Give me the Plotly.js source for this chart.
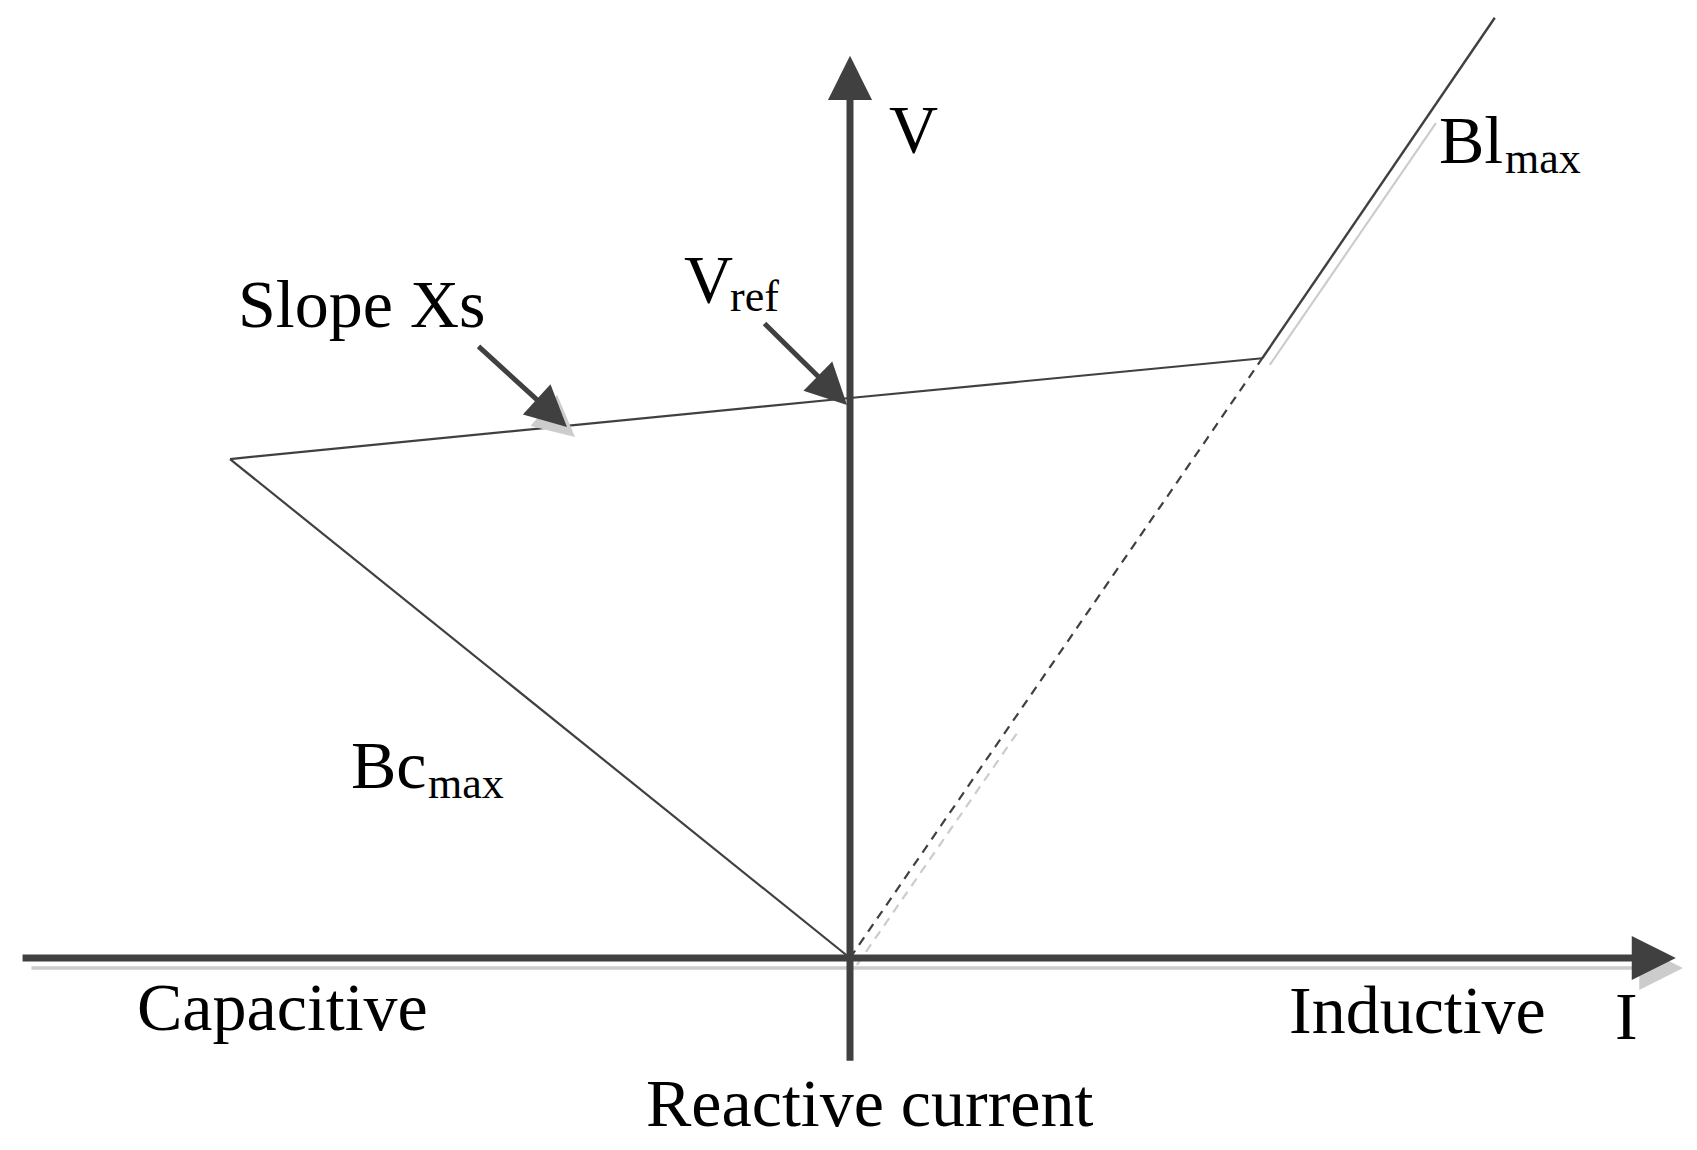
<!DOCTYPE html>
<html>
<head>
<meta charset="utf-8">
<script src="https://cdn.plot.ly/plotly-3.0.1.min.js"></script>
<style>
html,body{margin:0;padding:0;background:#fff;}
#chart{width:1697px;height:1150px;}
</style>
</head>
<body>
<div id="chart"></div>
<script>
// ---- Data (reactive current I, voltage V; V = 1 at Vref, I = -1 at capacitive limit) ----
const slopeI = [-1.000, 0.000, 0.665];
const slopeV = [0.891, 1.000, 1.071];
const bcI = [-1.000, 0.000];
const bcV = [0.891, 0.000];
const blI = [0.665, 1.040];
const blV = [1.071, 1.679];
const dashI = [0.000, 0.665];
const dashV = [0.000, 1.071];
// light-grey drop shadows
const blShadowI = [0.677, 0.945];
const blShadowV = [1.059, 1.491];
const dashShadowI = [0.011, 0.271];
const dashShadowV = [-0.0125, 0.404];
// axes extents
const axisI = [-1.337, 1.332];
const axisV = [-0.186, 1.611];
const axisShadowI = [-1.3226, 1.3435];
const axisShadowV = [-0.018, -0.018];
// pointer arrows [tail, tip]
const slopeArrowI = [-0.6016, -0.4565];
const slopeArrowV = [1.0946, 0.9482];
const slopeShadowI = [-0.5097, -0.4435];
const slopeShadowV = [0.9929, 0.9304];
const vrefArrowI = [-0.1403, -0.0048];
const vrefArrowV = [1.1357, 0.9875];

const W = 1697, H = 1150;
const DARK = '#404040', GREY = '#cccccc';
const FONT = '"Liberation Serif", "Times New Roman", serif';

function line(x, y, color, width, dash) {
  return {x: x, y: y, type: 'scatter', mode: 'lines', hoverinfo: 'skip', cliponaxis: false,
    line: {color: color, width: width, dash: dash || 'solid'}};
}
const traces = [
  line(blShadowI, blShadowV, GREY, 2.2),
  line(dashShadowI, dashShadowV, GREY, 2.2, '9px,7px'),
  line(slopeI, slopeV, DARK, 2.2),
  line(bcI, bcV, DARK, 2.2),
  line(blI, blV, DARK, 2.4),
  line(dashI, dashV, DARK, 2.2, '9px,7px')
];

function arrow(tx, ty, hx, hy, color, width, size) {
  return {xref: 'x', yref: 'y', axref: 'x', ayref: 'y', x: hx, y: hy, ax: tx, ay: ty,
    text: '', showarrow: true, arrowhead: 2, arrowsize: size, arrowwidth: width,
    arrowcolor: color, standoff: 0, startstandoff: 0};
}
function label(text, left, baseline, size) {
  return {xref: 'paper', yref: 'paper', x: left / W, y: 1 - (baseline - 0.3375 * size) / H,
    xanchor: 'left', yanchor: 'middle', text: text, showarrow: false,
    font: {family: FONT, size: size, color: '#000'}};
}

const annotations = [
  arrow(axisShadowI[0], axisShadowV[0], axisShadowI[1], axisShadowV[1], GREY, 3.5, 2.5),
  arrow(axisI[0], 0, axisI[1], 0, DARK, 7, 1.26),
  arrow(0, axisV[0], 0, axisV[1], DARK, 7, 1.26),
  arrow(slopeShadowI[0], slopeShadowV[0], slopeShadowI[1], slopeShadowV[1], GREY, 5, 1.64),
  arrow(slopeArrowI[0], slopeArrowV[0], slopeArrowI[1], slopeArrowV[1], DARK, 5, 1.64),
  arrow(vrefArrowI[0], vrefArrowV[0], vrefArrowI[1], vrefArrowV[1], DARK, 5, 1.64),
  label('V', 887, 152, 68),
  label('V', 682, 302, 68),
  label('ref', 728, 311, 44),
  label('Slope Xs', 236, 327, 68),
  label('Bl', 1437, 163, 68),
  label('max', 1503, 173, 44),
  label('Bc', 349, 788, 68),
  label('max', 426, 798, 44),
  label('Capacitive', 135, 1030, 68),
  label('Inductive', 1287, 1033, 68),
  label('I', 1613, 1039, 68),
  label('Reactive current', 644, 1126, 68)
];

const layout = {
  width: W, height: H, autosize: false,
  margin: {l: 0, r: 0, t: 0, b: 0, pad: 0},
  paper_bgcolor: '#ffffff', plot_bgcolor: '#ffffff',
  showlegend: false,
  xaxis: {range: [-850 / 620, 847 / 620], visible: false, fixedrange: true},
  yaxis: {range: [-192 / 560, 958 / 560], visible: false, fixedrange: true},
  annotations: annotations
};

Plotly.newPlot('chart', traces, layout, {staticPlot: true, displayModeBar: false});
</script>
</body>
</html>
